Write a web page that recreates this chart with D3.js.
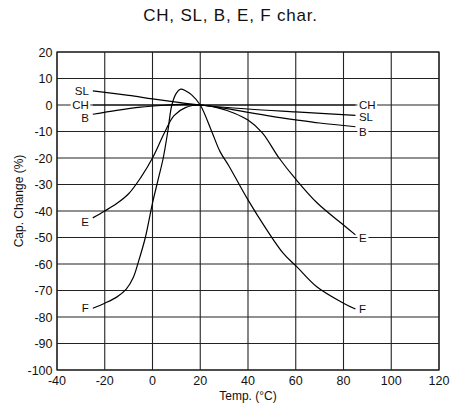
<!DOCTYPE html>
<html><head><meta charset="utf-8">
<script src="https://cdn.jsdelivr.net/npm/d3@7"></script>
<style>body{margin:0;background:#fff}svg{display:block}text{font-family:"Liberation Sans",Arial,sans-serif;fill:#111}</style>
</head><body><svg id="c" width="450" height="409"></svg>
<script>
const title = "CH, SL, B, E, F char.";
const xTicks = [-40,-20,0,20,40,60,80,100,120];
const yTicks = [20,10,0,-10,-20,-30,-40,-50,-60,-70,-80,-90,-100];
const xTitle = "Temp. (°C)";
const yTitle = "Cap. Change (%)";

const chT = [-25,85];
const chV = [0,0];
const slT = [-25,-10,0,10,20,40,60,85];
const slV = [5.3,3.6,2.3,1.1,0,-1.5,-2.6,-3.9];
const bT = [-25,-15,-5,5,12,20,30,40,50,60,70,85];
const bV = [-3.5,-2.0,-0.8,-0.1,0.2,0,-1.2,-2.8,-4.3,-5.6,-6.8,-8.2];
const eT = [-25,-20,-15,-10,-5,0,5,9,14,20,27,34,40,46,53,60,69,80,85];
const eV = [-42.6,-40,-37.2,-33.5,-27.5,-20,-10.5,-4,-0.9,0,-1,-3,-5.7,-10.5,-20,-28,-37,-45.3,-49];
const fT = [-25,-20,-15,-11,-8,-6,-3,0,2.4,4.5,6.4,8.1,10,11.8,14,16.4,20,24.8,28.3,32,40,47.8,54.8,60.4,68.8,80,85];
const fV = [-76.7,-74.8,-72.5,-69.5,-65,-59.5,-50,-37,-28,-20,-10,0,4.5,6,5.3,3.8,0,-10,-17.6,-23,-35.8,-47,-56,-61,-68.6,-74.8,-77];

const names = ["CH","SL","B","E","F"];
const leftLabelV = [0,5.3,-5,-44,-76.5];
const rightLabelV = [0,-4.5,-10,-50,-77];

const series = [[chT,chV],[slT,slV],[bT,bV],[eT,eV],[fT,fV]].map((s,i)=>({name:names[i],pts:s[0].map((t,j)=>[t,s[1][j]])}));

const svg = d3.select("#c");
const x = d3.scaleLinear().domain([-40,120]).range([57,439]);
const y = d3.scaleLinear().domain([-100,20]).range([370,52]);

svg.append("text").attr("x",230.5).attr("y",20.5).attr("text-anchor","middle")
  .style("font-size","17px").style("letter-spacing","0.8px").text(title);

const g = svg.append("g");
g.selectAll("line.v").data(xTicks).join("line").attr("x1",d=>x(d)).attr("x2",d=>x(d))
  .attr("y1",y(20)).attr("y2",y(-100)).attr("stroke","#222").attr("stroke-width",1.1);
g.selectAll("line.h").data(yTicks).join("line").attr("y1",d=>y(d)).attr("y2",d=>y(d))
  .attr("x1",x(-40)).attr("x2",x(120)).attr("stroke","#222").attr("stroke-width",1.1);
g.append("rect").attr("x",x(-40)).attr("y",y(20)).attr("width",x(120)-x(-40)).attr("height",y(-100)-y(20))
  .attr("fill","none").attr("stroke","#222").attr("stroke-width",1.2);

svg.selectAll("text.xt").data(xTicks).join("text").attr("x",d=>x(d)).attr("y",385)
  .attr("text-anchor","middle").style("font-size","12.5px").text(d=>d);
svg.selectAll("text.yt").data(yTicks).join("text").attr("x",52.5).attr("y",d=>y(d)).attr("dy","0.36em")
  .attr("text-anchor","end").style("font-size","12.5px").text(d=>d);

svg.append("text").attr("x",248).attr("y",400).attr("text-anchor","middle").style("font-size","12px").text(xTitle);
svg.append("text").attr("transform","translate(23,201) rotate(-90)").attr("text-anchor","middle").style("font-size","12px").text(yTitle);

const line = d3.line().x(d=>x(d[0])).y(d=>y(d[1])).curve(d3.curveCatmullRom.alpha(0.5));
svg.selectAll("path.s").data(series).join("path").attr("d",d=>line(d.pts))
  .attr("fill","none").attr("stroke","#000").attr("stroke-width",1.2);

function label(txt, xp, yp, anchor){
  const t = svg.append("text").attr("x",xp).attr("y",yp).attr("dy","0.35em").attr("text-anchor",anchor)
    .style("font-size","11.5px").text(txt);
  const bb = t.node().getBBox();
  svg.insert("rect", function(){return t.node();}).attr("x",bb.x-1.5).attr("y",yp-4).attr("width",bb.width+3).attr("height",8).attr("fill","#fff");
}
series.forEach((s,i)=>{
  const first = s.pts[0], last = s.pts[s.pts.length-1];
  label(s.name, x(first[0])-4, y(leftLabelV[i]), "end");
  label(s.name, x(last[0])+3.5, y(rightLabelV[i]), "start");
});
</script></body></html>
